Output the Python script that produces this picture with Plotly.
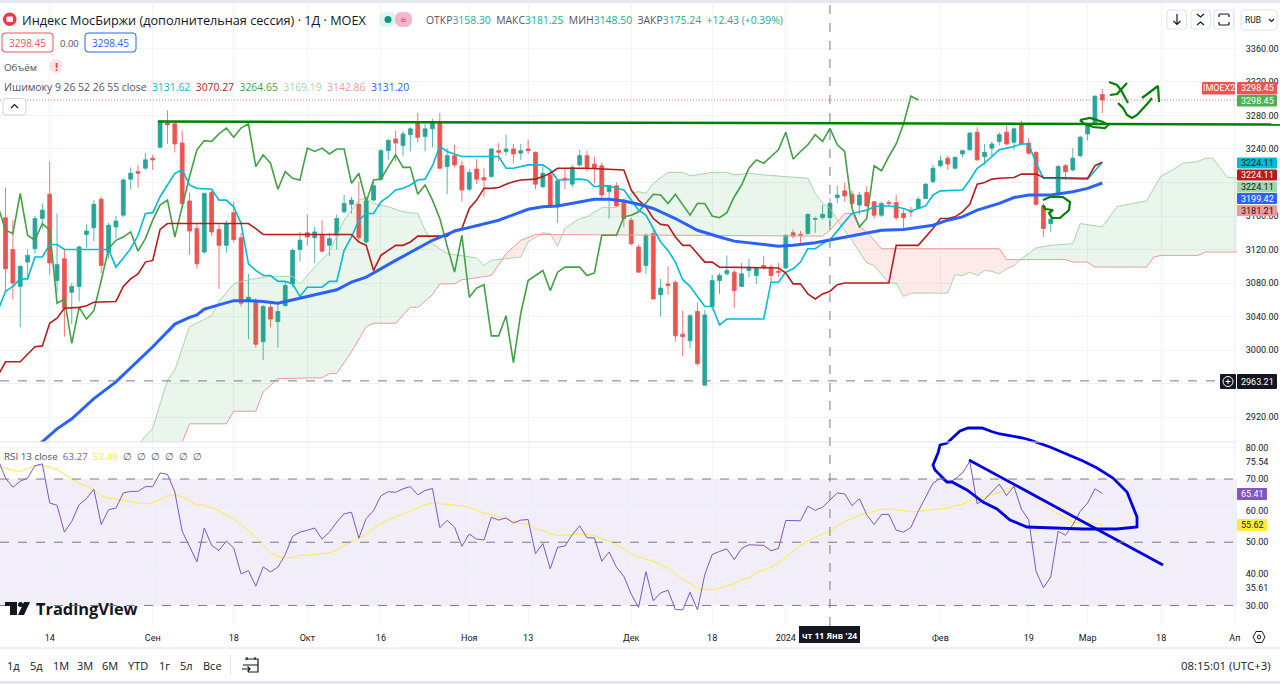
import numpy as np
import plotly.graph_objects as go

# daily candles (bar 0 = first visible bar)
opens = [3158,3120,3076,3105,3121,3157,3186,3083,3109,3069,3076,3138,3146,3180,3117,3147,3161,3204,3213,3217,
         3229,3242,3271,3270,3247,3178,3145,3117,3188,3144,3125,3164,3134,3058,3058,3010,3051,3034,3053,3079,
         3120,3140,3134,3137,3125,3137,3165,3174,3174,3129,3179,3204,3238,3252,3244,3257,3271,3255,3264,3271,
         3219,3232,3220,3192,3216,3206,3207,3238,3237,3240,3235,3240,3236,3195,3209,3172,3205,3198,3221,3232,
         3222,3220,3189,3196,3176,3155,3123,3101,3139,3066,3079,3081,3019,3011,3046,2958,3052,3083,3091,3093,
         3076,3095,3089,3101,3099,3094,3098,3140,3138,3139,3156,3158,3158,3182,3190,3186,3173,3188,3177,3161,
         3176,3176,3163,3166,3169,3181,3201,3220,3229,3217,3234,3239,3260,3231,3241,3249,3260,3248,3269,3247,
         3236,3172,3151,3185,3220,3215,3232,3258,3270,3305]
highs = [3194,3155,3101,3120,3160,3175,3225,3163,3120,3080,3125,3150,3179,3183,3152,3160,3205,3218,3221,3235,
         3233,3274,3286,3272,3262,3188,3152,3188,3190,3150,3155,3177,3140,3091,3062,3054,3056,3056,3082,3121,
         3141,3162,3147,3155,3140,3162,3185,3183,3201,3183,3201,3240,3252,3262,3261,3266,3283,3270,3276,3283,
         3241,3245,3226,3216,3228,3217,3241,3247,3257,3246,3246,3251,3237,3220,3215,3204,3217,3221,3239,3238,
         3231,3224,3197,3200,3181,3158,3126,3139,3145,3085,3100,3083,3047,3043,3057,3048,3090,3092,3113,3096,
         3104,3109,3099,3112,3102,3104,3138,3144,3142,3163,3159,3173,3181,3196,3200,3190,3189,3196,3178,3177,
         3179,3185,3169,3171,3183,3199,3221,3232,3232,3231,3239,3260,3266,3246,3249,3260,3268,3266,3274,3253,
         3237,3175,3165,3221,3222,3241,3256,3270,3304,3312]
lows = [3070,3060,3027,3083,3115,3145,3090,3068,3016,3031,3058,3122,3130,3092,3109,3133,3159,3192,3194,3215,
        3215,3241,3246,3236,3170,3114,3097,3115,3136,3073,3116,3128,3052,3013,3003,2988,3027,3003,3052,3075,
        3106,3125,3104,3117,3112,3120,3163,3163,3130,3127,3178,3202,3227,3225,3231,3237,3248,3237,3242,3216,
        3186,3218,3177,3190,3198,3183,3206,3225,3232,3223,3227,3234,3192,3193,3172,3152,3192,3194,3219,3213,
        3199,3179,3157,3171,3147,3125,3092,3091,3060,3040,3066,3010,2993,3002,2981,2958,3050,3067,3089,3050,
        3075,3087,3079,3096,3081,3087,3097,3133,3128,3138,3140,3156,3148,3175,3177,3170,3161,3171,3157,3159,
        3172,3155,3143,3159,3168,3180,3199,3218,3215,3216,3230,3238,3226,3221,3231,3244,3244,3239,3244,3233,
        3172,3135,3141,3184,3203,3213,3230,3250,3270,3283]
closes = [3097,3080,3100,3113,3157,3167,3104,3102,3050,3076,3123,3142,3174,3101,3149,3154,3203,3211,3211,3227,
          3227,3273,3269,3246,3175,3142,3103,3187,3141,3125,3151,3132,3056,3063,3007,3052,3037,3046,3077,3119,
          3131,3135,3141,3118,3133,3157,3175,3179,3134,3178,3196,3238,3250,3247,3258,3264,3254,3264,3271,3217,
          3232,3221,3191,3212,3204,3203,3240,3236,3240,3234,3238,3238,3198,3211,3173,3202,3203,3218,3232,3218,
          3217,3185,3196,3172,3157,3127,3093,3137,3061,3074,3077,3017,3016,3041,2984,3042,3083,3089,3095,3071,
          3091,3099,3098,3099,3089,3093,3137,3136,3137,3162,3157,3162,3175,3185,3184,3175,3185,3172,3161,3175,
          3175,3158,3158,3165,3180,3198,3217,3226,3222,3230,3238,3259,3227,3236,3246,3257,3246,3264,3246,3235,
          3174,3145,3156,3219,3213,3229,3254,3269,3303,3298.45]

# ichimoku lines as (bar, price) points
tenkan = [(-1,3048),(0,3070),(1,3076),(2,3085),(3,3085),(4,3111),(5,3111),(6,3126),(7,3126),(8,3120),(14,3120),(15,3099),
          (16,3110),(17,3121),(18,3137),(19,3163),(20,3164),(21,3183),(22,3197),(23,3211),(24,3215),(25,3197),(26,3193),
          (28,3192),(29,3179),(30,3179),(31,3171),(32,3151),(33,3103),(34,3095),(35,3089),(36,3089),(37,3082),(38,3082),
          (39,3079),(40,3064),(41,3075),(43,3075),(44,3082),(45,3082),(46,3119),(47,3135),(48,3155),(49,3163),(50,3163),
          (51,3177),(52,3183),(53,3191),(54,3193),(55,3197),(56,3203),(57,3204),(58,3220),(59,3243),(60,3237),(61,3234),
          (62,3231),(67,3231),(68,3217),(69,3217),(70,3219),(71,3221),(73,3221),(74,3215),(75,3203),(78,3204),(79,3203),
          (80,3195),(81,3196),(82,3196),(83,3193),(84,3191),(85,3179),(86,3167),(87,3161),(88,3145),(89,3129),(90,3119),
          (91,3105),(92,3084),(93,3076),(94,3064),(95,3052),(96,3052),(97,3030),(98,3037),(103,3037),(104,3081),(105,3081),
          (106,3093),(107,3097),(108,3105),(109,3121),(110,3121),(111,3127),(112,3131.62),(113,3143),(114,3153),(115,3163),
          (116,3165),(117,3167),(118,3171),(119,3172),(120,3172),(121,3171),(122,3169),(123,3166),(124,3169),(125,3172),
          (126,3185),(127,3190),(130,3191),(131,3203),(132,3217),(133,3223),(134,3231),(135,3239),(136,3241),(137,3243),
          (138,3246),(139,3246),(140,3223),(141,3205),(147,3204),(148,3214),(149,3224.11)]
kijun = [(-1,2970),(0,2986),(2,2986),(4,3004),(5,3005),(6,3032),(7,3038),(8,3050),(10,3051),(11,3053),(12,3057),(15,3058),
         (16,3076),(17,3085),(18,3091),(19,3105),(20,3107),(21,3144),(22,3151),(33,3151),(34,3145),(35,3138),(47,3138),
         (48,3129),(49,3125),(50,3095),(51,3113),(52,3119),(53,3125),(54,3125),(55,3129),(56,3136),(60,3136),(61,3143),
         (62,3145),(63,3169),(64,3179),(65,3193),(66,3193),(67,3194),(68,3198),(69,3201),(70,3203),(72,3204),(73,3207),
         (74,3211),(75,3217),(79,3217),(84,3215),(85,3191),(86,3179),(87,3171),(88,3157),(89,3150),(90,3149),(91,3135),
         (92,3125),(93,3125),(94,3115),(95,3105),(96,3105),(97,3099),(105,3098),(106,3092),(107,3079),(108,3079),(109,3067),
         (110,3061),(111,3067),(112,3070.27),(113,3078),(114,3080),(120,3080),(121,3125),(124,3125),(125,3135),(126,3145),
         (127,3157),(128,3157),(129,3159),(130,3165),(131,3174),(132,3198),(133,3200),(134,3204),(135,3205),(137,3206),
         (138,3210),(140,3210),(141,3206),(147,3205),(148,3220),(149,3224.11)]
chikou_vals = [3171,3143,3139,3187,3137,3131,3151,3143,3056,3061,3008,3051,3037,3047,3083,3121,3131,3135,3141,3118,3133,3155,
               3173,3179,3135,3171,3207,3239,3250,3249,3258,3265,3254,3265,3270,3219,3233,3223,3192,3213,3205,3203,3241,3237,
               3241,3234,3240,3240,3199,3211,3177,3203,3204,3219,3233,3218,3218,3186,3197,3179,3157,3124,3093,3137,3063,3074,
               3078,3017,3017,3041,2985,3044,3083,3089,3095,3071,3093,3099,3099,3099,3089,3092,3137,3137,3137,3159,3161,3165,
               3175,3186,3185,3175,3186,3173,3161,3175,3175,3160,3158,3164,3183,3197,3217,3227,3223,3231,3239,3260,3228,3237,
               3245,3257,3249,3264.65,3245,3237,3169,3147,3157,3220,3214,3231,3246,3270,3303,3298.45]
senkou_a = [(15,2870),(18,2887),(20,2907),(21,2936),(22,2964),(23,2976),(25,3028),(28,3041),(29,3058),(31,3079),(33,3084),
            (36,3088),(39,3088),(40,3079),(42,3099),(44,3117),(45,3135),(46,3155),(48,3179),(49,3181),(50,3175),(52,3171),
            (54,3165),(56,3163),(57,3143),(58,3127),(60,3115),(64,3110),(65,3101),(66,3107),(70,3111),(71,3129),(73,3140),
            (74,3139),(75,3124),(76,3145),(78,3157),(79,3159),(81,3170),(83,3170),(85,3187),(86,3189),(87,3187),(88,3199),
            (90,3212),(92,3212),(93,3208),(96,3212),(98,3212),(99,3209),(101,3211),(103,3209),(109,3205),(110,3187),(111,3175),
            (112,3169.19),(113,3155),(114,3143),(115,3131),(116,3117),(117,3104),(118,3101),(120,3080),(121,3080),(122,3064),
            (123,3068),(128,3068),(129,3090),(130,3089),(131,3093),(132,3089),(133,3095),(134,3094),(135,3091),(136,3097),
            (137,3101),(138,3109),(139,3115),(140,3122),(142,3125),(145,3127),(146,3151),(149,3147),(151,3171),(152,3173),
            (155,3178),(157,3208),(158,3212),(160,3223),(162,3225),(163,3229),(164,3229),(166,3206),(168,3205)]
senkou_b = [(15,2830),(23,2870),(24,2890),(25,2912),(30,2912),(31,2927),(34,2927),(35,2950),(37,2966),(43,2967),(44,2972),
            (45,2972),(47,2998),(49,3028),(50,3032),(53,3032),(55,3051),(56,3051),(58,3066),(59,3079),(61,3079),(62,3084),
            (63,3085),(66,3089),(68,3115),(69,3123),(70,3131),(72,3138),(110,3136),(111,3136),(112,3142.86),(113,3153),
            (114,3163),(115,3163),(116,3147),(117,3141),(118,3131),(119,3121),(135,3121),(136,3108),(144,3108),(145,3105),
            (147,3105),(148,3099),(155,3099),(156,3111),(157,3113),(162,3113),(163,3117),(168,3117)]
ma55 = [(4,2883),(7,2906),(9,2918),(12,2942),(15,2962),(20,3004),(23,3031),(25,3039),(26,3042),(27,3049),(29,3054),(31,3059),
        (33,3059),(35,3058),(37,3056),(38,3058),(41,3064),(45,3072),(47,3081),(49,3087),(53,3107),(58,3131),(61,3142),(65,3151),
        (67,3155),(71,3168),(73,3171),(75,3172),(78,3177),(80,3180),(82,3180),(84,3178),(86,3174),(88,3169),(91,3157),(94,3143),
        (97,3135),(99,3130),(105,3124),(107,3125),(110,3128),(112,3131.2),(113,3133),(116,3138),(119,3143),(122,3144),(126,3149),
        (128,3155),(130,3159),(132,3167),(135,3175),(137,3182),(139,3185),(142,3185),(145,3189),(147,3193),(149,3199.42)]

# rsi pane, one value per bar from bar -1 on
rsi_vals = [76,70.3,67.4,69.3,70.3,74.2,74.8,62.4,61.7,53.2,56.6,61.9,63.8,66.8,55.6,60.3,60.8,65.6,66.1,66.1,67.6,67.6,71.9,71.5,
            65.9,53.5,48.7,43.8,54.5,49,47.4,50.4,48.2,40,41,36.1,42.2,40.6,42.1,46.1,51.9,53.2,53.8,54.5,51,53.2,56.4,59,59.5,
            51.3,57.5,60,64.7,66,65.8,66.9,67.6,65,66.4,67,54.6,56.9,54.8,48.7,52.6,51,50.7,57.9,57,57.7,56.1,57,57.2,46.4,49.6,
            41.6,48.4,48.8,52.4,55.2,51.4,51.4,44,46.9,42.1,39.2,33.6,29.4,40.7,31.5,34,34.8,28.7,28.6,34.2,28.6,39.8,46.1,47.1,
            47.9,44.5,48,49.2,49.1,49,47.3,48,56.9,56.8,56.8,61.4,60.1,61.1,63.27,65.6,65.3,61.6,63.8,58.7,55.6,58.8,58.8,53.8,
            53.2,54.7,59.8,64.5,68.7,70.2,68.7,70,71.9,75.54,62.2,63.5,66.1,68.4,64.8,67.7,60.5,57.1,40.8,35.61,39,53.5,52.2,55.6,
            59.8,62.4,66.9,65.41]
rsi_ma_vals = [74,73.5,72.7,72.4,73.3,74.2,74.2,73.8,73,71.4,70,68.7,67.7,66.6,64.7,64,63.7,63.4,62.9,62.4,62.1,62.4,63.5,64.7,65,
               64.3,63.3,61.8,61.7,60.9,60,58.7,57.4,55.6,53.7,51.6,49.2,46.9,45.5,45,45.2,45.9,45.9,46.2,46.5,46.6,47.4,49.1,50.3,
               51.2,52.6,54.2,55.9,57.1,58,59,60,60.8,61.9,62.4,62.2,62.1,61.8,61.5,61,60.1,59.2,58.7,58,57.4,56.6,55.9,55.6,54.2,
               53.9,52.6,52.2,52.2,52.4,52.6,52.5,52.1,51.1,50.4,49.2,47.9,46.2,45.3,44.7,44,42.9,41.9,40.1,38.2,37,35.5,35.1,35.1,
               35.5,36.1,36.8,38.1,38.8,40.3,41.1,42.1,43.4,45.2,47.1,49,50.5,51.6,52.6,53.48,55.2,56.5,57.5,58.4,59.2,59.8,60.4,
               60.5,60.3,60,59.6,59.7,60,60.3,60.6,60.8,61.5,62,63.3,63.8,64.3,65,65.9,66.6,67.5,67.2,66.6,64.5,62.4,60.3,59,57.7,
               56.3,56.2,56.1,56,55.62]

date_ticks = [6,20,31,41,51,63,71,85,96,106,127,139,147,157,167]
date_labels = ["14","Сен","18","Окт","16","Ноя","13","Дек","18","2024","Фев","19","Мар","18","Ап"]
price_ticks = [3360,3320,3280,3240,3200,3160,3120,3080,3040,3000,2960,2920]
# these two sit fully under the coloured price tags on the reference
hidden_price_ticks = [3200,2960]
rsi_grid = [80,70,60,50,40,30]
rsi_ticks = [80,75.54,70,60,50,40,35.61,30]
range_buttons = ["1д","5д","1М","3М","6М","YTD","1г","5л","Все"]
range_button_x = [13,36,61,85,110,138,164,186,212]

# freehand marks the author drew over the screenshot, screen pixels
level_stroke = [(158,121.5),(1280,124.5)]
green_strokes = [
    [(1109,82),(1117,85),(1121,90),(1125,97),(1128,103)],
    [(1127,83),(1122,88),(1117,94),(1110,95)],
    [(1118,103),(1123,108),(1127,115),(1132,118),(1137,115),(1142,110),(1148,103),(1152,98)],
    [(1142,98),(1158,86),(1159,102)],
    [(1080,120),(1090,118),(1103,122),(1108,125),(1105,128),(1093,127),(1083,123),(1080,120)],
    [(1043,200),(1050,197),(1063,197),(1070,202),(1069,210),(1060,218),(1052,218),(1049,213),(1053,210),(1045,209),(1043,205)],
]
blue_strokes = [
    [(1030,440),(1023,438),(1000,434),(993,432),(982,428),(968,428),(960,431),(947,443),(940,445),(938,453),(933,465),(935,470),
     (947,482),(952,482),(967,490),(983,502),(997,509),(1010,520),(1027,527),(1083,529),(1117,529),(1137,527),(1137,517),(1127,492),
     (1113,478),(1097,468),(1083,461),(1067,454),(1050,447),(1030,440)],
    [(969,460),(1163,565)],
]

C_UP, C_DOWN = "#26a69a", "#ef5350"
GRID = "#f0f3fa"
TEXT = "#131722"
SOFT = "#50535e"
FONT = "Open Sans"
AXIS_FONT = "Roboto"
WIDTH, HEIGHT = 1280, 684
PANE_SPLIT, RSI_BOTTOM = 442, 626

def unzip(points):
    return [p[0] for p in points], [p[1] for p in points]

fig = go.Figure()

# cloud between the two senkou lines, split where they cross
a_x, a_y = unzip(senkou_a)
b_x, b_y = unzip(senkou_b)
bars = np.arange(15, 169)
a_all = np.interp(bars, a_x, a_y)
b_all = np.interp(bars, b_x, b_y)
up_x, up_y, dn_x, dn_y = [], [], [], []
for k in range(len(bars) - 1):
    x0, x1 = bars[k], bars[k + 1]
    a0, a1, b0, b1 = a_all[k], a_all[k + 1], b_all[k], b_all[k + 1]
    d0, d1 = a0 - b0, a1 - b1
    if d0 * d1 < 0:
        t = d0 / (d0 - d1)
        xc, yc = x0 + t, a0 + t * (a1 - a0)
        left = ([x0, xc, x0, None], [a0, yc, b0, None])
        right = ([xc, x1, x1, None], [yc, a1, b1, None])
        if d0 > 0:
            up_x += left[0]; up_y += left[1]; dn_x += right[0]; dn_y += right[1]
        else:
            dn_x += left[0]; dn_y += left[1]; up_x += right[0]; up_y += right[1]
    else:
        qx, qy = [x0, x1, x1, x0, None], [a0, a1, b1, b0, None]
        if d0 >= 0 and d1 >= 0:
            up_x += qx; up_y += qy
        else:
            dn_x += qx; dn_y += qy
fig.add_trace(go.Scatter(x=up_x, y=up_y, mode="none", fill="toself", fillcolor="rgba(67,160,71,0.11)", xaxis="x", yaxis="y"))
fig.add_trace(go.Scatter(x=dn_x, y=dn_y, mode="none", fill="toself", fillcolor="rgba(244,67,54,0.11)", xaxis="x", yaxis="y"))

fig.add_trace(go.Candlestick(
    x=list(range(len(opens))), open=opens, high=highs, low=lows, close=closes,
    increasing=dict(line=dict(color=C_UP, width=0.8), fillcolor=C_UP),
    decreasing=dict(line=dict(color=C_DOWN, width=0.8), fillcolor=C_DOWN),
    whiskerwidth=0, xaxis="x", yaxis="y"))

def add_line(points, color, width, xa="x", ya="y"):
    xs, ys = unzip(points)
    fig.add_trace(go.Scatter(x=xs, y=ys, mode="lines", line=dict(color=color, width=width), xaxis=xa, yaxis=ya))

add_line(senkou_a, "#a5d6a7", 1)
add_line(senkou_b, "#ef9a9a", 1)
add_line(list(zip(range(-1, len(chikou_vals) - 1), chikou_vals)), "#43a047", 1.6)
add_line(tenkan, "#00bcd4", 1.6)
add_line(kijun, "#b71c1c", 1.6)
add_line(ma55, "#2962ff", 3)

add_line(list(zip(range(-1, len(rsi_ma_vals) - 1), rsi_ma_vals)), "#ffeb3b", 1, "x2", "y2")
add_line(list(zip(range(-1, len(rsi_vals) - 1), rsi_vals)), "#7e57c2", 1, "x2", "y2")

# scribbles live on an invisible pixel axis covering the whole page
add_line(level_stroke, "#008000", 2.5, "x3", "y3")
for stroke in green_strokes:
    add_line(stroke, "#008000", 2.2, "x3", "y3")
for stroke in blue_strokes:
    add_line(stroke, "#0000e0", 2.8, "x3", "y3")

shapes, notes = [], []

def rect(x0, y0, x1, y1, fill="rgba(0,0,0,0)", line=None, radius=0, lw=1):
    if radius:
        r = radius
        path = (f"M{x0+r},{y0} L{x1-r},{y0} Q{x1},{y0} {x1},{y0+r} L{x1},{y1-r} Q{x1},{y1} {x1-r},{y1} "
                f"L{x0+r},{y1} Q{x0},{y1} {x0},{y1-r} L{x0},{y0+r} Q{x0},{y0} {x0+r},{y0} Z")
        shapes.append(dict(type="path", path=path, xref="x3", yref="y3", fillcolor=fill, layer="above",
                           line=dict(color=line or "rgba(0,0,0,0)", width=lw if line else 0)))
    else:
        shapes.append(dict(type="rect", x0=x0, y0=y0, x1=x1, y1=y1, xref="x3", yref="y3", fillcolor=fill, layer="above",
                           line=dict(color=line or "rgba(0,0,0,0)", width=lw if line else 0)))

def stroke_path(path, color=TEXT, width=1.2):
    shapes.append(dict(type="path", path=path, xref="x3", yref="y3", layer="above", line=dict(color=color, width=width)))

def txt(x, y, s, size=11, color=TEXT, anchor="left", family=FONT):
    notes.append(dict(x=x, y=y, xref="x3", yref="y3", text=s, showarrow=False, xanchor=anchor, yanchor="middle",
                      font=dict(size=size, color=color, family=family), borderpad=0))

def col(s, c):
    return f'<span style="color:{c}">{s}</span>'

# background strips and dividers
rect(0, 0, WIDTH, 3, fill="#e6e8ef")
rect(0, 681, WIDTH, 684, fill="#e6e8ef")
rect(0, PANE_SPLIT - 0.5, 1237, PANE_SPLIT + 0.5, fill="#e0e3eb")
rect(0, 647.5, WIDTH, 648.5, fill="#e0e3eb")

# reference lines
shapes.append(dict(type="line", xref="x domain", yref="y", x0=0, x1=1, y0=3298.45, y1=3298.45, line=dict(color=C_DOWN, width=0.8, dash="1px,2px")))
shapes.append(dict(type="line", xref="x domain", yref="y", x0=0, x1=1, y0=2963.21, y1=2963.21, line=dict(color="#787b86", width=1, dash="dash")))
shapes.append(dict(type="rect", xref="x2 domain", yref="y2", x0=0, x1=1, y0=30, y1=70, fillcolor="rgba(126,87,194,0.1)", line=dict(width=0), layer="below"))
for level in [70, 50, 30]:
    shapes.append(dict(type="line", xref="x2 domain", yref="y2", x0=0, x1=1, y0=level, y1=level, line=dict(color="#787b86", width=1, dash="dash")))
shapes.append(dict(type="line", xref="x", yref="y3", x0=112, x1=112, y0=5, y1=RSI_BOTTOM, line=dict(color="#787b86", width=1, dash="dash")))

# legend header
shapes.append(dict(type="circle", xref="x3", yref="y3", x0=3, y0=12.5, x1=16.5, y1=26, fillcolor="#f23645", line=dict(width=0), layer="above"))
rect(6.5, 16.5, 13, 22, fill="#ffffff", radius=1)
txt(21, 20, "Индекс МосБиржи (дополнительная сессия) · 1Д · MOEX", 12.7, TEXT)
rect(379, 12, 396, 27, fill="#dff3ef", radius=7)
rect(395, 12, 412, 27, fill="#f5b5cb", radius=7)
shapes.append(dict(type="circle", xref="x3", yref="y3", x0=384.5, y0=16, x1=391.5, y1=23, fillcolor="#089981", line=dict(width=0), layer="above"))
txt(403, 19.5, "≈", 11, "#d6336c", "center")
val = "#22ab94"
txt(425, 20, "ОТКР" + col("3158.30", val) + "  МАКС" + col("3181.25", val) + "  МИН" + col("3148.50", val)
    + "  ЗАКР" + col("3175.24", val) + "  " + col("+12.43 (+0.39%)", val), 10.4, SOFT)
rect(2, 33, 53, 52, fill="#ffffff", line="#f7525f", radius=3)
txt(27.5, 43, "3298.45", 10, "#f7525f", "center")
txt(69, 43, "0.00", 9.5, SOFT, "center")
rect(85, 33, 136, 52, fill="#ffffff", line="#2962ff", radius=3)
txt(110.5, 43, "3298.45", 10, "#2962ff", "center")
txt(3, 67, "Объём", 9.8, SOFT)
shapes.append(dict(type="circle", xref="x3", yref="y3", x0=49, y0=59, x1=63, y1=73, fillcolor="#fce4e6", line=dict(width=0), layer="above"))
txt(56, 66, "<b>!</b>", 11, "#f23645", "center")
txt(3, 87, "Ишимоку 9 26 52 26 55 close  " + col("3131.62", "#00bcd4") + "  " + col("3070.27", "#b71c1c") + "  "
    + col("3264.65", "#43a047") + "  " + col("3169.19", "#a5d6a7") + "  " + col("3142.86", "#ef9a9a") + "  " + col("3131.20", "#2962ff"), 10.4, SOFT)
rect(3, 98.5, 26, 115, fill="#ffffff", line="#d1d4dc", radius=3)
stroke_path("M11,108 L14.5,104.5 L18,108")

# top-right buttons
for x0 in [1167, 1191, 1214]:
    rect(x0, 10, x0 + 19.5, 29, fill="#ffffff", line="#e0e3eb", radius=3)
rect(1241, 10, 1277, 30, fill="#ffffff", line="#e0e3eb", radius=3)
stroke_path("M1177,14 L1177,24 M1173.5,21 L1177,24.5 L1180.5,21")
stroke_path("M1197,14 L1200.5,17 L1204,14 M1197,25 L1200.5,22 L1204,25")
stroke_path("M1219,17 L1219,15 Q1219,14 1220,14 L1228,14 Q1229,14 1229,15 L1229,17 M1219,22 L1219,24 Q1219,25 1220,25 L1228,25 Q1229,25 1229,24 L1229,22")
txt(1244, 20, "RUB", 8.5, TEXT, family=AXIS_FONT)
stroke_path("M1269,19 L1271.5,21.5 L1274,19")

# price labels on the right
def tag(y0, y1, text, bg, fg="#ffffff", x0=1237, x1=1277):
    rect(x0, y0, x1, y1, fill=bg, radius=1)
    txt((x0 + x1) / 2, (y0 + y1) / 2, text, 9, fg, "center", AXIS_FONT)

tag(82, 94.5, "IMOEX2", "#ef5350", x0=1202, x1=1235)
tag(82, 94.5, "3298.45", "#ef5350")
tag(95, 106.5, "3298.45", "#4caf50")
tag(157.5, 168.5, "3224.11", "#00bcd4", TEXT)
tag(169.5, 180.5, "3224.11", "#b71c1c")
tag(181.5, 192.5, "3224.11", "#a5d6a7", TEXT)
tag(193, 204, "3199.42", "#2962ff")
tag(205, 216, "3181.21", "#ef9a9a", TEXT)
tag(374, 389, "2963.21", "#131722")
rect(1220, 374, 1236, 389, fill="#131722", radius=1)
shapes.append(dict(type="circle", xref="x3", yref="y3", x0=1223, y0=376.5, x1=1233, y1=386.5, line=dict(color="#ffffff", width=1), layer="above"))
stroke_path("M1228,379 L1228,384 M1225.5,381.5 L1230.5,381.5", "#ffffff", 1)
tag(488, 500, "65.41", "#7e57c2", x1=1267)
tag(519, 531, "55.62", "#ffeb3b", TEXT, x1=1267)

# rsi legend and watermark
txt(3, 456, "RSI 13 close  " + col("63.27", "#7e57c2") + "  " + col("53.48", "#ffeb3b") + "  ∅  ∅  ∅  ∅  ∅  ∅", 9.8, SOFT)
rect(5, 602, 17, 606, fill=TEXT)
rect(10, 602, 17, 615, fill=TEXT)
shapes.append(dict(type="circle", xref="x3", yref="y3", x0=18, y0=602, x1=23, y1=607, fillcolor=TEXT, line=dict(width=0), layer="above"))
shapes.append(dict(type="path", xref="x3", yref="y3", path="M24,602 L30,602 L24,615 L18,615 Z", fillcolor=TEXT, line=dict(width=0), layer="above"))
txt(35, 608, "<b>TradingView</b>", 16.4, TEXT)

# crosshair date, axis gear, bottom toolbar
rect(799, 626, 860, 643, fill="#131722")
txt(829.5, 635, "<b>чт 11 Янв '24</b>", 8.5, "#ffffff", "center")
shapes.append(dict(type="path", xref="x3", yref="y3", path="M1253,637 L1256,631.5 L1262,631.5 L1265,637 L1262,642.5 L1256,642.5 Z", line=dict(color=TEXT, width=1), layer="above"))
shapes.append(dict(type="circle", xref="x3", yref="y3", x0=1257.5, y0=635, x1=1260.5, y1=639, line=dict(color=TEXT, width=1), layer="above"))
for label, x in zip(range_buttons, range_button_x):
    txt(x, 665, label, 11, TEXT, "center")
rect(230, 655, 231, 675, fill="#e0e3eb")
stroke_path("M245,659 L258,659 L258,672 L248,672 M243,665 L258,665 M247,657 L247,660 M255,657 L255,660 M242,669 L250,669 M247.5,666.5 L250,669 L247.5,671.5")
txt(1272, 665, "08:15:01 (UTC+3)", 11.4, TEXT, "right")

axis_font = dict(size=9, color=TEXT, family=AXIS_FONT)
x_range = [-0.75, 167.3]
fig.update_layout(
    width=WIDTH, height=HEIGHT, margin=dict(l=0, r=0, t=0, b=0, autoexpand=False),
    paper_bgcolor="#ffffff", plot_bgcolor="rgba(0,0,0,0)",
    showlegend=False, hovermode=False, font=dict(family=FONT),
    boxgap=0.25,
    shapes=shapes, annotations=notes,
    xaxis=dict(domain=[0, 1237 / WIDTH], range=x_range, anchor="y", rangeslider=dict(visible=False),
               tickvals=date_ticks, ticktext=[""] * len(date_ticks), showgrid=True, gridcolor=GRID, gridwidth=1, zeroline=False, showline=False, ticks=""),
    yaxis=dict(domain=[1 - PANE_SPLIT / HEIGHT, 1 - 4 / HEIGHT], range=[2890.3, 3413], anchor="x", side="right",
               tickvals=price_ticks, ticktext=["" if v in hidden_price_ticks else f"{v:.2f}" for v in price_ticks],
               showgrid=True, gridcolor=GRID, zeroline=False,
               showline=False, ticks="outside", ticklen=6, tickcolor="rgba(0,0,0,0)", tickfont=axis_font),
    xaxis2=dict(domain=[0, 1237 / WIDTH], range=x_range, anchor="y2", matches="x",
                tickvals=date_ticks, ticktext=date_labels, tickangle=0, showgrid=True, gridcolor=GRID, zeroline=False, showline=False,
                ticks="outside", ticklen=3, tickcolor="rgba(0,0,0,0)", tickfont=axis_font),
    yaxis2=dict(domain=[1 - RSI_BOTTOM / HEIGHT, 1 - (PANE_SPLIT + 1) / HEIGHT], range=[23.5, 81.4], anchor="x2", side="right",
                tickvals=rsi_ticks, ticktext=[f"{v:.2f}" for v in rsi_ticks], showgrid=False, zeroline=False,
                showline=False, ticks="outside", ticklen=6, tickcolor="rgba(0,0,0,0)", tickfont=axis_font),
    xaxis3=dict(domain=[0, 1], range=[0, WIDTH], anchor="y3", visible=False, fixedrange=True),
    yaxis3=dict(domain=[0, 1], range=[HEIGHT, 0], anchor="x3", visible=False, fixedrange=True),
)
# horizontal rsi grid, only the plain levels get a line
for level in rsi_grid:
    if level not in (70, 50, 30):
        fig.add_shape(type="line", xref="x2 domain", yref="y2", x0=0, x1=1, y0=level, y1=level, line=dict(color=GRID, width=1), layer="below")

fig.write_html("out.html", config=dict(displayModeBar=False), post_script="document.body.style.margin='0';document.body.style.overflow='hidden';")
